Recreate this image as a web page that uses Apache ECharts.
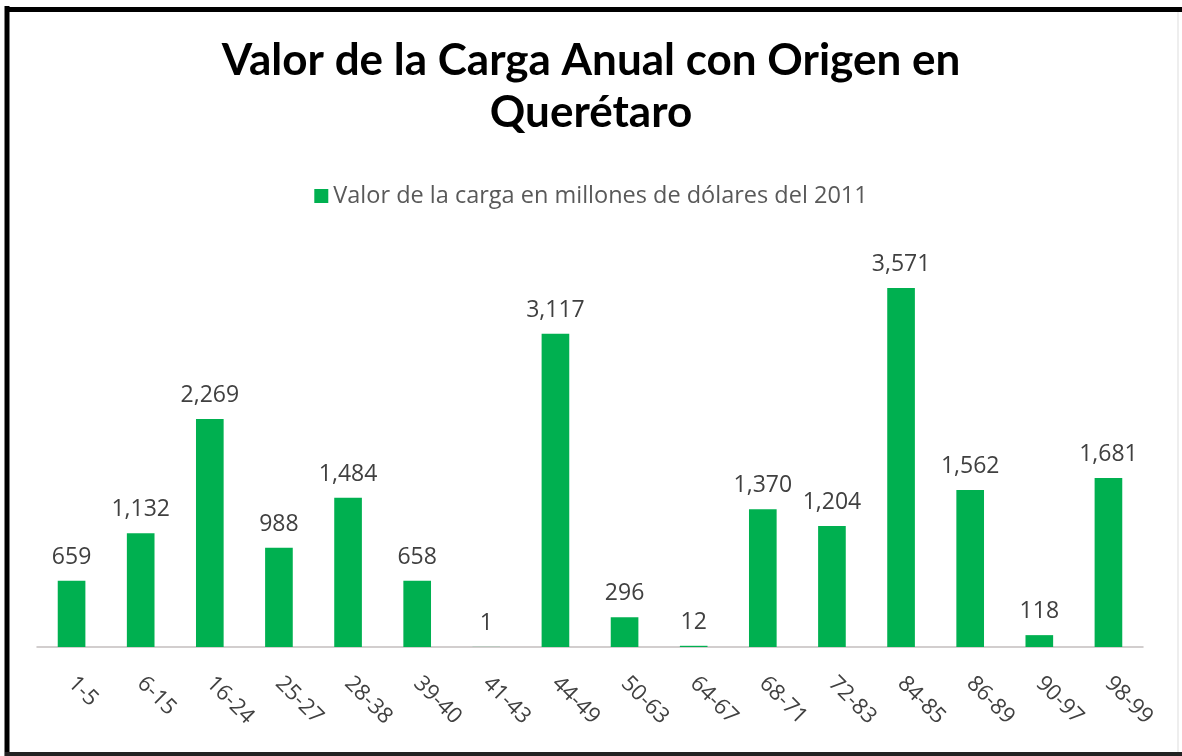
<!DOCTYPE html>
<html>
<head>
<meta charset="utf-8">
<title>Valor de la Carga Anual con Origen en Querétaro</title>
<script src="https://cdn.jsdelivr.net/npm/echarts@6/dist/echarts.min.js"></script>
<style>
  html, body { margin: 0; padding: 0; background: #fff; }
  #chart { width: 1182px; height: 756px; }
</style>
</head>
<body>
<div id="chart"></div>
<script>
// categorias (capitulos) y valores en millones de dolares del 2011
var categorias = ['1-5', '6-15', '16-24', '25-27', '28-38', '39-40', '41-43', '44-49',
  '50-63', '64-67', '68-71', '72-83', '84-85', '86-89', '90-97', '98-99'];
var valores = [659, 1132, 2269, 988, 1484, 658, 1, 3117, 296, 12, 1370, 1204, 3571, 1562, 118, 1681];
var nombreSerie = 'Valor de la carga en millones de dólares del 2011';

var myChart = echarts.init(document.getElementById('chart'));
var option = {
  animation: false,
  backgroundColor: '#fff',
  title: {
    text: 'Valor de la Carga Anual con Origen en\nQuerétaro',
    left: 'center',
    top: 30,
    textStyle: {
      fontFamily: 'Lato',
      fontWeight: 'bold',
      fontSize: 44,
      lineHeight: 52,
      color: '#000'
    }
  },
  legend: {
    data: [nombreSerie],
    top: 179,
    left: 'center',
    icon: 'rect',
    itemWidth: 14,
    itemHeight: 14,
    itemGap: 6,
    textStyle: { fontFamily: 'Open Sans', fontSize: 23.5, color: '#595959' }
  },
  color: ['#00B050'],
  grid: { left: 37, right: 39, top: 245, bottom: 109 },
  xAxis: {
    type: 'category',
    data: categorias,
    axisLine: { lineStyle: { color: '#c4bfbf', width: 1.5 } },
    axisTick: { show: false },
    axisLabel: {
      interval: 0,
      rotate: -45,
      margin: 33,
      fontFamily: 'Open Sans',
      fontSize: 22,
      color: '#404040'
    }
  },
  yAxis: {
    type: 'value',
    min: 0,
    max: 4000,
    show: false
  },
  series: [{
    name: nombreSerie,
    type: 'bar',
    data: valores,
    barWidth: '40%',
    label: {
      show: true,
      position: 'top',
      distance: 12,
      fontFamily: 'Open Sans',
      fontSize: 23,
      color: '#404040',
      formatter: function (p) { return p.value.toLocaleString('en-US'); }
    }
  }],
  graphic: [
    { type: 'line', shape: { x1: 7, y1: 6, x2: 7, y2: 756 }, style: { stroke: '#000', lineWidth: 5 } },
    { type: 'line', shape: { x1: 5, y1: 9.5, x2: 1182, y2: 9.5 }, style: { stroke: '#000', lineWidth: 5 } },
    { type: 'line', shape: { x1: 5, y1: 754, x2: 1182, y2: 754 }, style: { stroke: '#222', lineWidth: 4 } },
    { type: 'line', shape: { x1: 1178, y1: 12, x2: 1178, y2: 752 }, style: { stroke: '#ddd', lineWidth: 1 } }
  ]
};
myChart.setOption(option);
</script>
</body>
</html>
